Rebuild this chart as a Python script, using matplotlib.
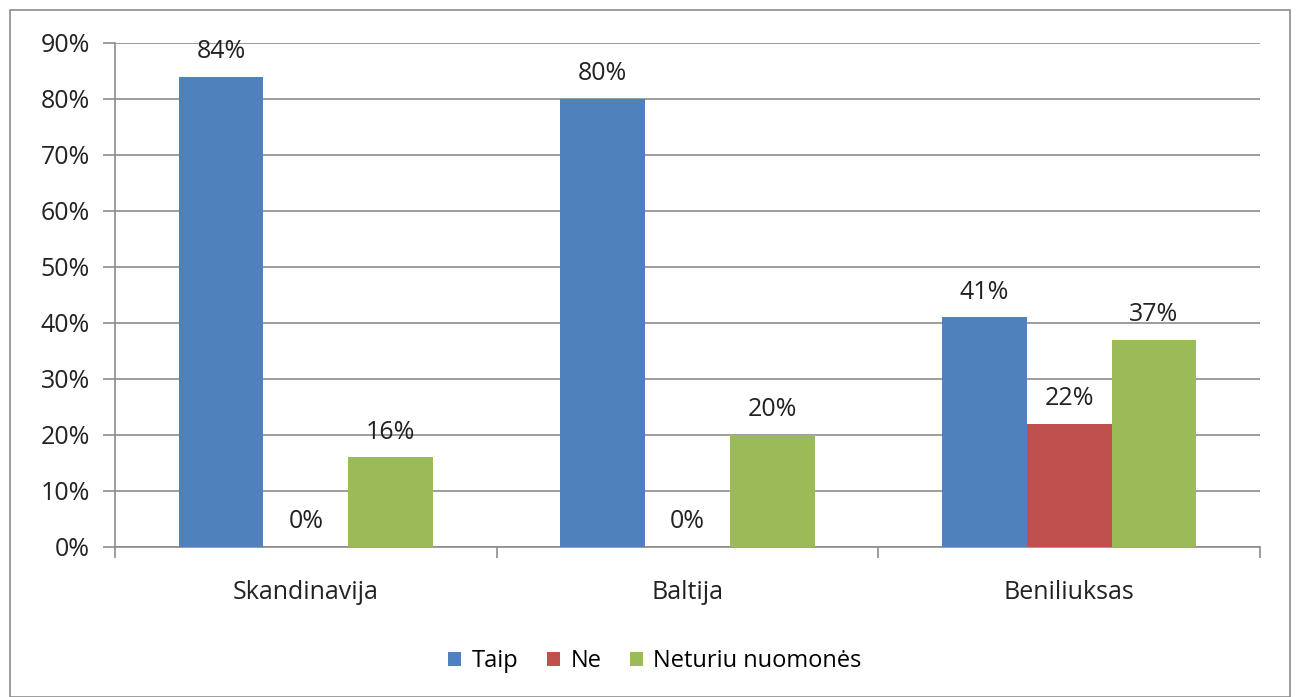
import matplotlib
matplotlib.use("Agg")
import matplotlib.pyplot as plt
import numpy as np
from matplotlib.patches import Rectangle

plt.rcParams['font.family'] = ['Open Sans', 'DejaVu Sans']

categories = ["Skandinavija", "Baltija", "Beniliuksas"]
series_names = ["Taip", "Ne", "Neturiu nuomonės"]
taip = [84, 80, 41]
ne = [0, 0, 22]
neturiu = [16, 20, 37]
colors = ["#4F81BD", "#C0504D", "#9BBB59"]
yticks = list(range(0, 91, 10))

FS = 18
TXT = "#222222"
GRID = "#8c8c8c"

fig = plt.figure(figsize=(12.96, 6.97), dpi=100)
ax = fig.add_axes([115/1296, 1 - 547/697, (1260 - 115)/1296, (547 - 43)/697])

# outer chart frame
fig.patches.append(Rectangle((10/1296, 0), (1290 - 10)/1296, 1 - 10/697,
                             transform=fig.transFigure, fill=False,
                             edgecolor=GRID, linewidth=1.2))

x = np.arange(len(categories))
w = 0.222
for i, (vals, col) in enumerate(zip([taip, ne, neturiu], colors)):
    pos = x + (i - 1) * w
    ax.bar(pos, vals, width=w, color=col, label=series_names[i], zorder=3)
    for p, v in zip(pos, vals):
        ax.annotate(f"{v}%", (p, v), xytext=(0, 9), textcoords="offset points",
                    ha="center", va="bottom", fontsize=FS, color=TXT)

ax.set_xlim(-0.5, 2.5)
ax.set_ylim(0, 90)
ax.set_yticks(yticks)
ax.set_yticklabels([f"{t}%" for t in yticks], fontsize=FS, color=TXT)
ax.yaxis.grid(True, color=GRID, linewidth=1.2, zorder=0)
ax.tick_params(axis="y", length=9, color=GRID, width=1.2, pad=9)

ax.set_xticks(x)
ax.set_xticklabels(categories, fontsize=FS, color=TXT)
ax.tick_params(axis="x", length=0, pad=24)
ax.set_xticks([-0.5, 0.5, 1.5, 2.5], minor=True)
ax.tick_params(axis="x", which="minor", length=8, color=GRID, width=1.2)

for s in ["top", "right"]:
    ax.spines[s].set_visible(False)
for s in ["left", "bottom"]:
    ax.spines[s].set_color(GRID)
    ax.spines[s].set_linewidth(1.2)

fig.legend(loc="center", bbox_to_anchor=(655/1296, 1 - 661/697), ncol=3,
           frameon=False, fontsize=17, handlelength=0.55, handleheight=0.55,
           handletextpad=0.45, columnspacing=1.2)

fig.savefig("out.png", dpi=100)
